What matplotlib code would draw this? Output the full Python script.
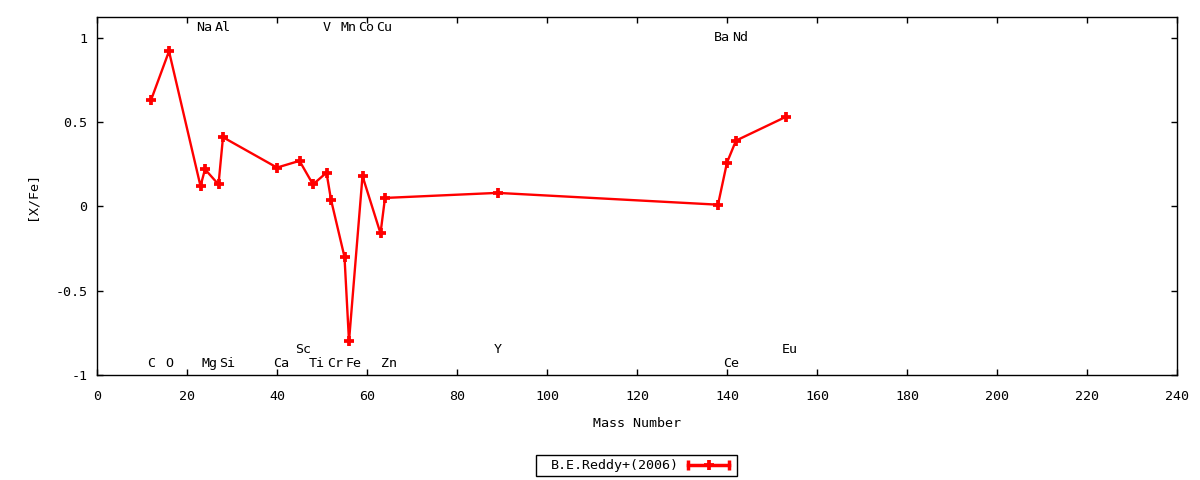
import matplotlib
matplotlib.use("Agg")
import matplotlib.pyplot as plt
from matplotlib.lines import Line2D
from matplotlib.patches import Rectangle
from matplotlib.ticker import FuncFormatter, MultipleLocator

plt.rcParams['font.family'] = ['DejaVu Sans Mono']
plt.rcParams['axes.unicode_minus'] = False

# Data: B.E.Reddy+(2006)
mass = [12, 16, 23, 24, 27, 28, 40, 45, 48, 51, 52, 55, 56, 59, 63, 64, 89, 138, 140, 142, 153]
xfe = [0.63, 0.92, 0.12, 0.22, 0.13, 0.41, 0.23, 0.27, 0.13, 0.20, 0.04, -0.30, -0.80,
       0.18, -0.16, 0.05, 0.08, 0.01, 0.26, 0.39, 0.53]

# Element labels: name, mass number, label row y
label_names = ['C', 'O', 'Na', 'Mg', 'Al', 'Si', 'Ca', 'Sc', 'Ti', 'V', 'Cr', 'Mn', 'Fe',
               'Co', 'Cu', 'Zn', 'Y', 'Ba', 'Ce', 'Nd', 'Eu']
label_mass = [12, 16, 23, 24, 27, 28, 40, 45, 48, 51, 52, 55, 56, 59, 63, 64, 89, 138, 140, 142, 153]
label_y = [-0.93, -0.93, 1.06, -0.93, 1.06, -0.93, -0.93, -0.85, -0.93, 1.06, -0.93, 1.06,
           -0.93, 1.06, 1.06, -0.93, -0.85, 1.0, -0.93, 1.0, -0.85]

series_name = 'B.E.Reddy+(2006)'
xticks = list(range(0, 241, 20))

FS = 9.6
RED = '#ff0000'
W, H = 1200, 480

fig = plt.figure(figsize=(12, 4.8), dpi=100)
ax = fig.add_axes([97/W, 105/H, 1080/W, 358/H])

ax.plot(mass, xfe, color=RED, lw=1.7, marker='+', ms=7.2, mew=2.7, zorder=3)

for name, m, y in zip(label_names, label_mass, label_y):
    ax.annotate(name, xy=(m, y), xytext=(-2.8, 0), textcoords='offset points',
                ha='left', va='center', fontsize=FS, color='black')

ax.set_xlim(0, 240)
ax.set_ylim(-1, 1.123)
ax.set_xticks(xticks)
ax.yaxis.set_major_locator(MultipleLocator(0.5))
ax.yaxis.set_major_formatter(FuncFormatter(lambda v, p: '%g' % v))
ax.xaxis.set_major_formatter(FuncFormatter(lambda v, p: '%g' % v))
ax.tick_params(direction='in', length=4, width=1, top=True, right=True, labelsize=FS)
ax.tick_params(axis='x', pad=11)
ax.tick_params(axis='y', pad=7)
for s in ax.spines.values():
    s.set_linewidth(1)
    s.set_color('black')

ax.set_xlabel('Mass Number', fontsize=FS, labelpad=10)
ax.set_ylabel('[X/Fe]', fontsize=FS, labelpad=12)

# Legend drawn in figure pixel coordinates (gnuplot style key)
bx0, bx1, by0, by1 = 535.5, 737, 455, 475.5
fig.add_artist(Rectangle((bx0/W, 1 - by1/H), (bx1-bx0)/W, (by1-by0)/H,
                         transform=fig.transFigure, fill=False, edgecolor='black', lw=1))
fig.text(551/W, 1 - 465.5/H, series_name, fontsize=FS, ha='left', va='center')
ly = 1 - 465/H
fig.add_artist(Line2D([688/W, 729/W], [ly, ly], transform=fig.transFigure,
                      color=RED, lw=2.5, marker='|', ms=6.5, mew=2.5))
fig.add_artist(Line2D([708.5/W], [ly], transform=fig.transFigure,
                      color=RED, marker='+', ms=7.2, mew=2.7))

fig.savefig('out.png', dpi=100)
